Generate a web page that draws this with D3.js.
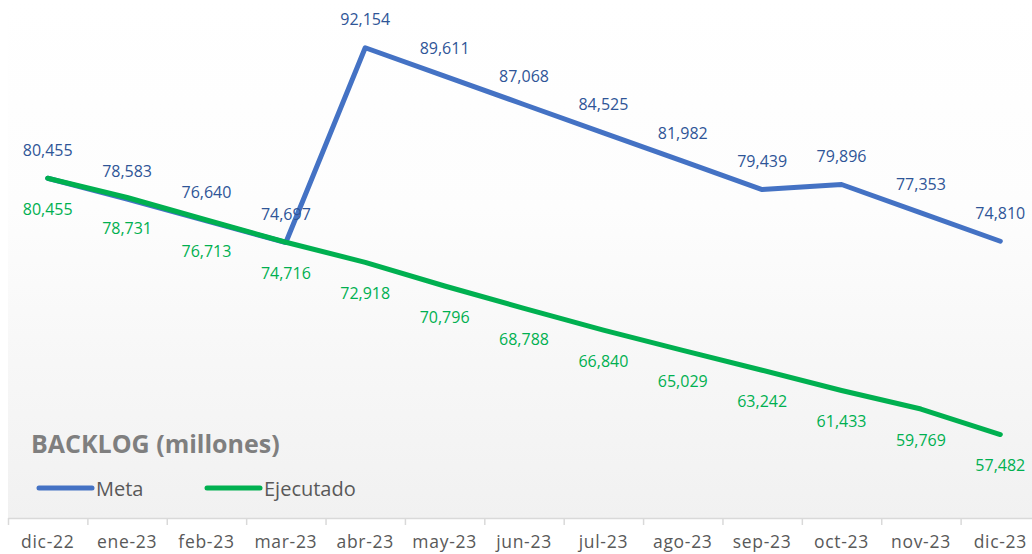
<!DOCTYPE html>
<html>
<head>
<meta charset="utf-8">
<script src="https://cdn.jsdelivr.net/npm/d3@7"></script>
<style>
  body { margin: 0; background: #fff; }
  text { font-family: "Open Sans", sans-serif; }
</style>
</head>
<body>
<div id="wrapper"></div>
<script>
// data
const months = ["dic-22", "ene-23", "feb-23", "mar-23", "abr-23", "may-23", "jun-23",
  "jul-23", "ago-23", "sep-23", "oct-23", "nov-23", "dic-23"]
const meta = [80455, 78583, 76640, 74697, 92154, 89611, 87068, 84525, 81982, 79439, 79896, 77353, 74810]
const ejecutado = [80455, 78731, 76713, 74716, 72918, 70796, 68788, 66840, 65029, 63242, 61433, 59769, 57482]
const yDomain = [50000, 95000]

const width = 1032
const height = 554
const margin = { top: 16, right: -8, bottom: 36, left: 8 }
const boundedWidth = width - margin.left - margin.right
const boundedHeight = height - margin.top - margin.bottom

const svg = d3.select("#wrapper")
  .append("svg")
    .attr("width", width)
    .attr("height", height)

// background gradient
const grad = svg.append("defs").append("linearGradient")
    .attr("id", "bg")
    .attr("x1", 0).attr("y1", 0).attr("x2", 0).attr("y2", 1)
grad.append("stop").attr("offset", "0%").attr("stop-color", "#ffffff")
grad.append("stop").attr("offset", "40%").attr("stop-color", "#fdfdfd")
grad.append("stop").attr("offset", "100%").attr("stop-color", "#f1f1f1")

svg.append("rect")
    .attr("x", margin.left)
    .attr("y", 0)
    .attr("width", width - margin.left)
    .attr("height", margin.top + boundedHeight)
    .attr("fill", "url(#bg)")

const bounds = svg.append("g")
    .attr("transform", `translate(${margin.left},${margin.top})`)

const xScale = d3.scaleBand()
  .domain(months)
  .range([0, boundedWidth])

const yScale = d3.scaleLinear()
  .domain(yDomain)
  .range([boundedHeight, 0])

const xPos = (d, i) => xScale(months[i]) + xScale.bandwidth() / 2

// x axis
const xAxis = bounds.append("g")
    .attr("transform", `translate(0,${boundedHeight})`)
    .call(d3.axisBottom(xScale).tickSize(0))
xAxis.select(".domain").attr("stroke", "#d9d9d9").attr("stroke-width", 1.5)
xAxis.selectAll(".tick text")
    .attr("y", 30)
    .attr("dy", null)
    .attr("font-size", 17.5)
    .attr("letter-spacing", 0.7)
    .attr("fill", "#595959")
    .attr("font-family", "'Open Sans', sans-serif")

bounds.append("g")
  .selectAll("line")
  .data(months.concat(["end"]))
  .join("line")
    .attr("x1", (d, i) => i * xScale.bandwidth() + 0.5)
    .attr("x2", (d, i) => i * xScale.bandwidth() + 0.5)
    .attr("y1", boundedHeight)
    .attr("y2", boundedHeight + 7)
    .attr("stroke", "#d9d9d9")
    .attr("stroke-width", 1.5)

// lines
const lineGen = d3.line()
  .x(xPos)
  .y(d => yScale(d))

const series = [
  { name: "Meta", values: meta, color: "#4472c4", labelColor: "#2f5597", dy: -28 },
  { name: "Ejecutado", values: ejecutado, color: "#00b050", labelColor: "#00b050", dy: 31 },
]

series.forEach(s => {
  bounds.append("path")
      .datum(s.values)
      .attr("d", lineGen)
      .attr("fill", "none")
      .attr("stroke", s.color)
      .attr("stroke-width", 5)
      .attr("stroke-linejoin", "round")
      .attr("stroke-linecap", "round")

  bounds.append("g")
    .selectAll("text")
    .data(s.values)
    .join("text")
      .attr("x", xPos)
      .attr("y", d => yScale(d) + s.dy)
      .attr("dy", "0.35em")
      .attr("text-anchor", "middle")
      .attr("font-size", 16)
      .attr("fill", s.labelColor)
      .text(d => d3.format(",")(d))
})

// title
svg.append("text")
    .attr("x", 31)
    .attr("y", 453)
    .attr("font-size", 25)
    .attr("font-weight", "bold")
    .attr("fill", "#7f7f7f")
    .text("BACKLOG (millones)")

// legend
const legend = svg.append("g")
    .attr("transform", "translate(0,488)")
const legendItems = [
  { name: "Meta", x: 39 },
  { name: "Ejecutado", x: 207 },
]
legendItems.forEach((item, i) => {
  legend.append("line")
      .attr("x1", item.x).attr("x2", item.x + 53)
      .attr("y1", 0).attr("y2", 0)
      .attr("stroke", series[i].color)
      .attr("stroke-width", 5)
      .attr("stroke-linecap", "round")
  legend.append("text")
      .attr("x", item.x + 57)
      .attr("y", 8)
      .attr("font-size", 20)
      .attr("fill", "#595959")
      .text(item.name)
})
</script>
</body>
</html>
